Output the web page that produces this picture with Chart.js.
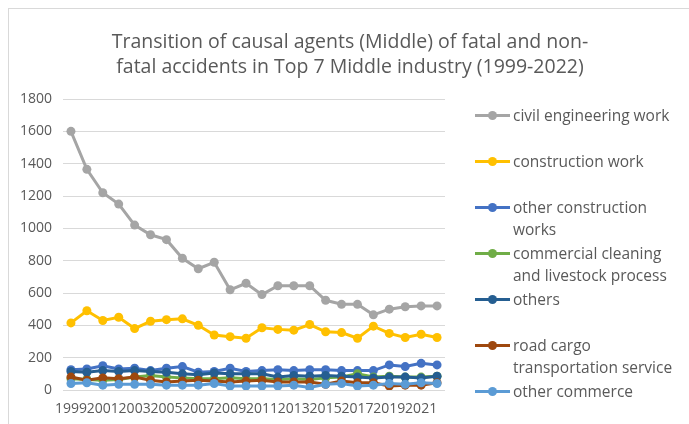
<!DOCTYPE html>
<html>
<head>
<meta charset="utf-8">
<script src="https://cdn.jsdelivr.net/npm/chart.js@4"></script>
<style>
  body { margin: 0; background: #fff; }
  #wrap { position: relative; width: 689px; height: 424px; overflow: hidden; font-family: "Open Sans", sans-serif; color: #595959; }
  #frame { position: absolute; left: 8px; top: 8px; width: 700px; height: 440px; border: 1px solid #d9d9d9; }
  #chart { position: absolute; left: 0; top: 0; }
  #title { position: absolute; left: 60px; width: 580px; top: 28px; text-align: center; font-size: 19.5px; line-height: 25px; }
  #legend { position: absolute; left: 475px; top: 104px; }
  .item { height: 46px; display: flex; align-items: flex-start; }
  .sym { position: relative; width: 35px; height: 22px; flex: none; }
  .sym .ln { position: absolute; left: 0; top: 10px; width: 35px; height: 3px; }
  .sym .dot { position: absolute; left: 13px; top: 7px; width: 9px; height: 9px; border-radius: 50%; }
  .txt { margin-left: 3px; width: 168px; font-size: 15.5px; line-height: 22px; }
</style>
</head>
<body>
<div id="wrap">
  <div id="frame"></div>
  <canvas id="chart" width="689" height="424"></canvas>
  <div id="title">Transition of causal agents (Middle) of fatal and non-<br>fatal accidents in Top 7 Middle industry (1999-2022)</div>
  <div id="legend"></div>
</div>
<script>
const years = ['1999','2000','2001','2002','2003','2004','2005','2006','2007','2008','2009','2010',
               '2011','2012','2013','2014','2015','2016','2017','2018','2019','2020','2021','2022'];

const civilEngineering = [1600, 1365, 1220, 1150, 1020, 960, 930, 815, 750, 790, 620, 660, 590, 645, 645, 645, 555, 530, 530, 465, 500, 515, 520, 520];
const construction     = [415, 490, 430, 450, 380, 425, 435, 440, 400, 340, 330, 320, 385, 375, 370, 405, 360, 355, 320, 395, 350, 325, 345, 325];
const otherConstruction = [125, 130, 150, 130, 135, 120, 135, 145, 110, 115, 135, 115, 120, 125, 120, 125, 125, 120, 120, 120, 155, 145, 165, 155];
const commercialCleaning = [70, 65, 60, 65, 80, 90, 80, 75, 70, 70, 75, 70, 70, 65, 70, 65, 75, 80, 100, 80, 85, 80, 80, 85];
const others            = [115, 110, 120, 115, 120, 115, 110, 100, 95, 105, 100, 100, 100, 80, 90, 85, 90, 85, 80, 75, 80, 80, 75, 85];
const roadCargo         = [80, 60, 75, 70, 80, 60, 50, 55, 60, 55, 50, 55, 60, 50, 50, 50, 35, 55, 45, 45, 25, 30, 30, 45];
const otherCommerce     = [40, 45, 30, 35, 35, 35, 30, 30, 30, 40, 25, 25, 25, 25, 30, 15, 35, 40, 25, 30, 40, 35, 45, 40];

const seriesNames = ['civil engineering work', 'construction work', 'other construction works',
                     'commercial cleaning and livestock process', 'others',
                     'road cargo transportation service', 'other commerce'];
const seriesData = [civilEngineering, construction, otherConstruction, commercialCleaning, others, roadCargo, otherCommerce];
const seriesColors = ['#a5a5a5', '#ffc000', '#4472c4', '#70ad47', '#255e91', '#9e480e', '#5b9bd5'];

// later series on top, like the original
const datasets = seriesNames.map((name, i) => ({
    label: name,
    data: seriesData[i],
    borderColor: seriesColors[i],
    backgroundColor: seriesColors[i],
    borderWidth: 3,
    pointRadius: 4.5,
    pointBorderWidth: 0,
    tension: 0,
    order: seriesNames.length - i
}));

new Chart(document.getElementById('chart').getContext('2d'), {
    type: 'line',
    data: { labels: years, datasets: datasets },
    options: {
        responsive: false,
        animation: false,
        layout: { padding: { left: 0, top: 99, right: 244, bottom: 0 } },
        plugins: {
            legend: { display: false },
            title: { display: false },
            tooltip: { enabled: false }
        },
        scales: {
            x: {
                offset: true,
                grid: { display: false, drawTicks: false },
                border: { display: false },
                ticks: {
                    autoSkip: false,
                    maxRotation: 0,
                    minRotation: 0,
                    padding: 11,
                    color: '#595959',
                    font: { family: 'Open Sans', size: 14 },
                    callback: (v, i) => i % 2 === 0 ? years[i] : ''
                },
                afterFit: s => { s.height = 34; }
            },
            y: {
                min: 0,
                max: 1800,
                grid: { color: '#d9d9d9', lineWidth: 1, drawTicks: false },
                border: { display: false },
                ticks: {
                    stepSize: 200,
                    padding: 11,
                    color: '#595959',
                    font: { family: 'Open Sans', size: 14 },
                    callback: v => String(v)
                },
                afterFit: s => { s.width = 63; }
            }
        }
    }
});

const legend = document.getElementById('legend');
seriesNames.forEach((name, i) => {
    const item = document.createElement('div');
    item.className = 'item';
    item.innerHTML = '<div class="sym"><div class="ln"></div><div class="dot"></div></div><div class="txt"></div>';
    item.querySelector('.ln').style.background = seriesColors[i];
    item.querySelector('.dot').style.background = seriesColors[i];
    item.querySelector('.txt').textContent = name;
    legend.appendChild(item);
});
</script>
</body>
</html>
